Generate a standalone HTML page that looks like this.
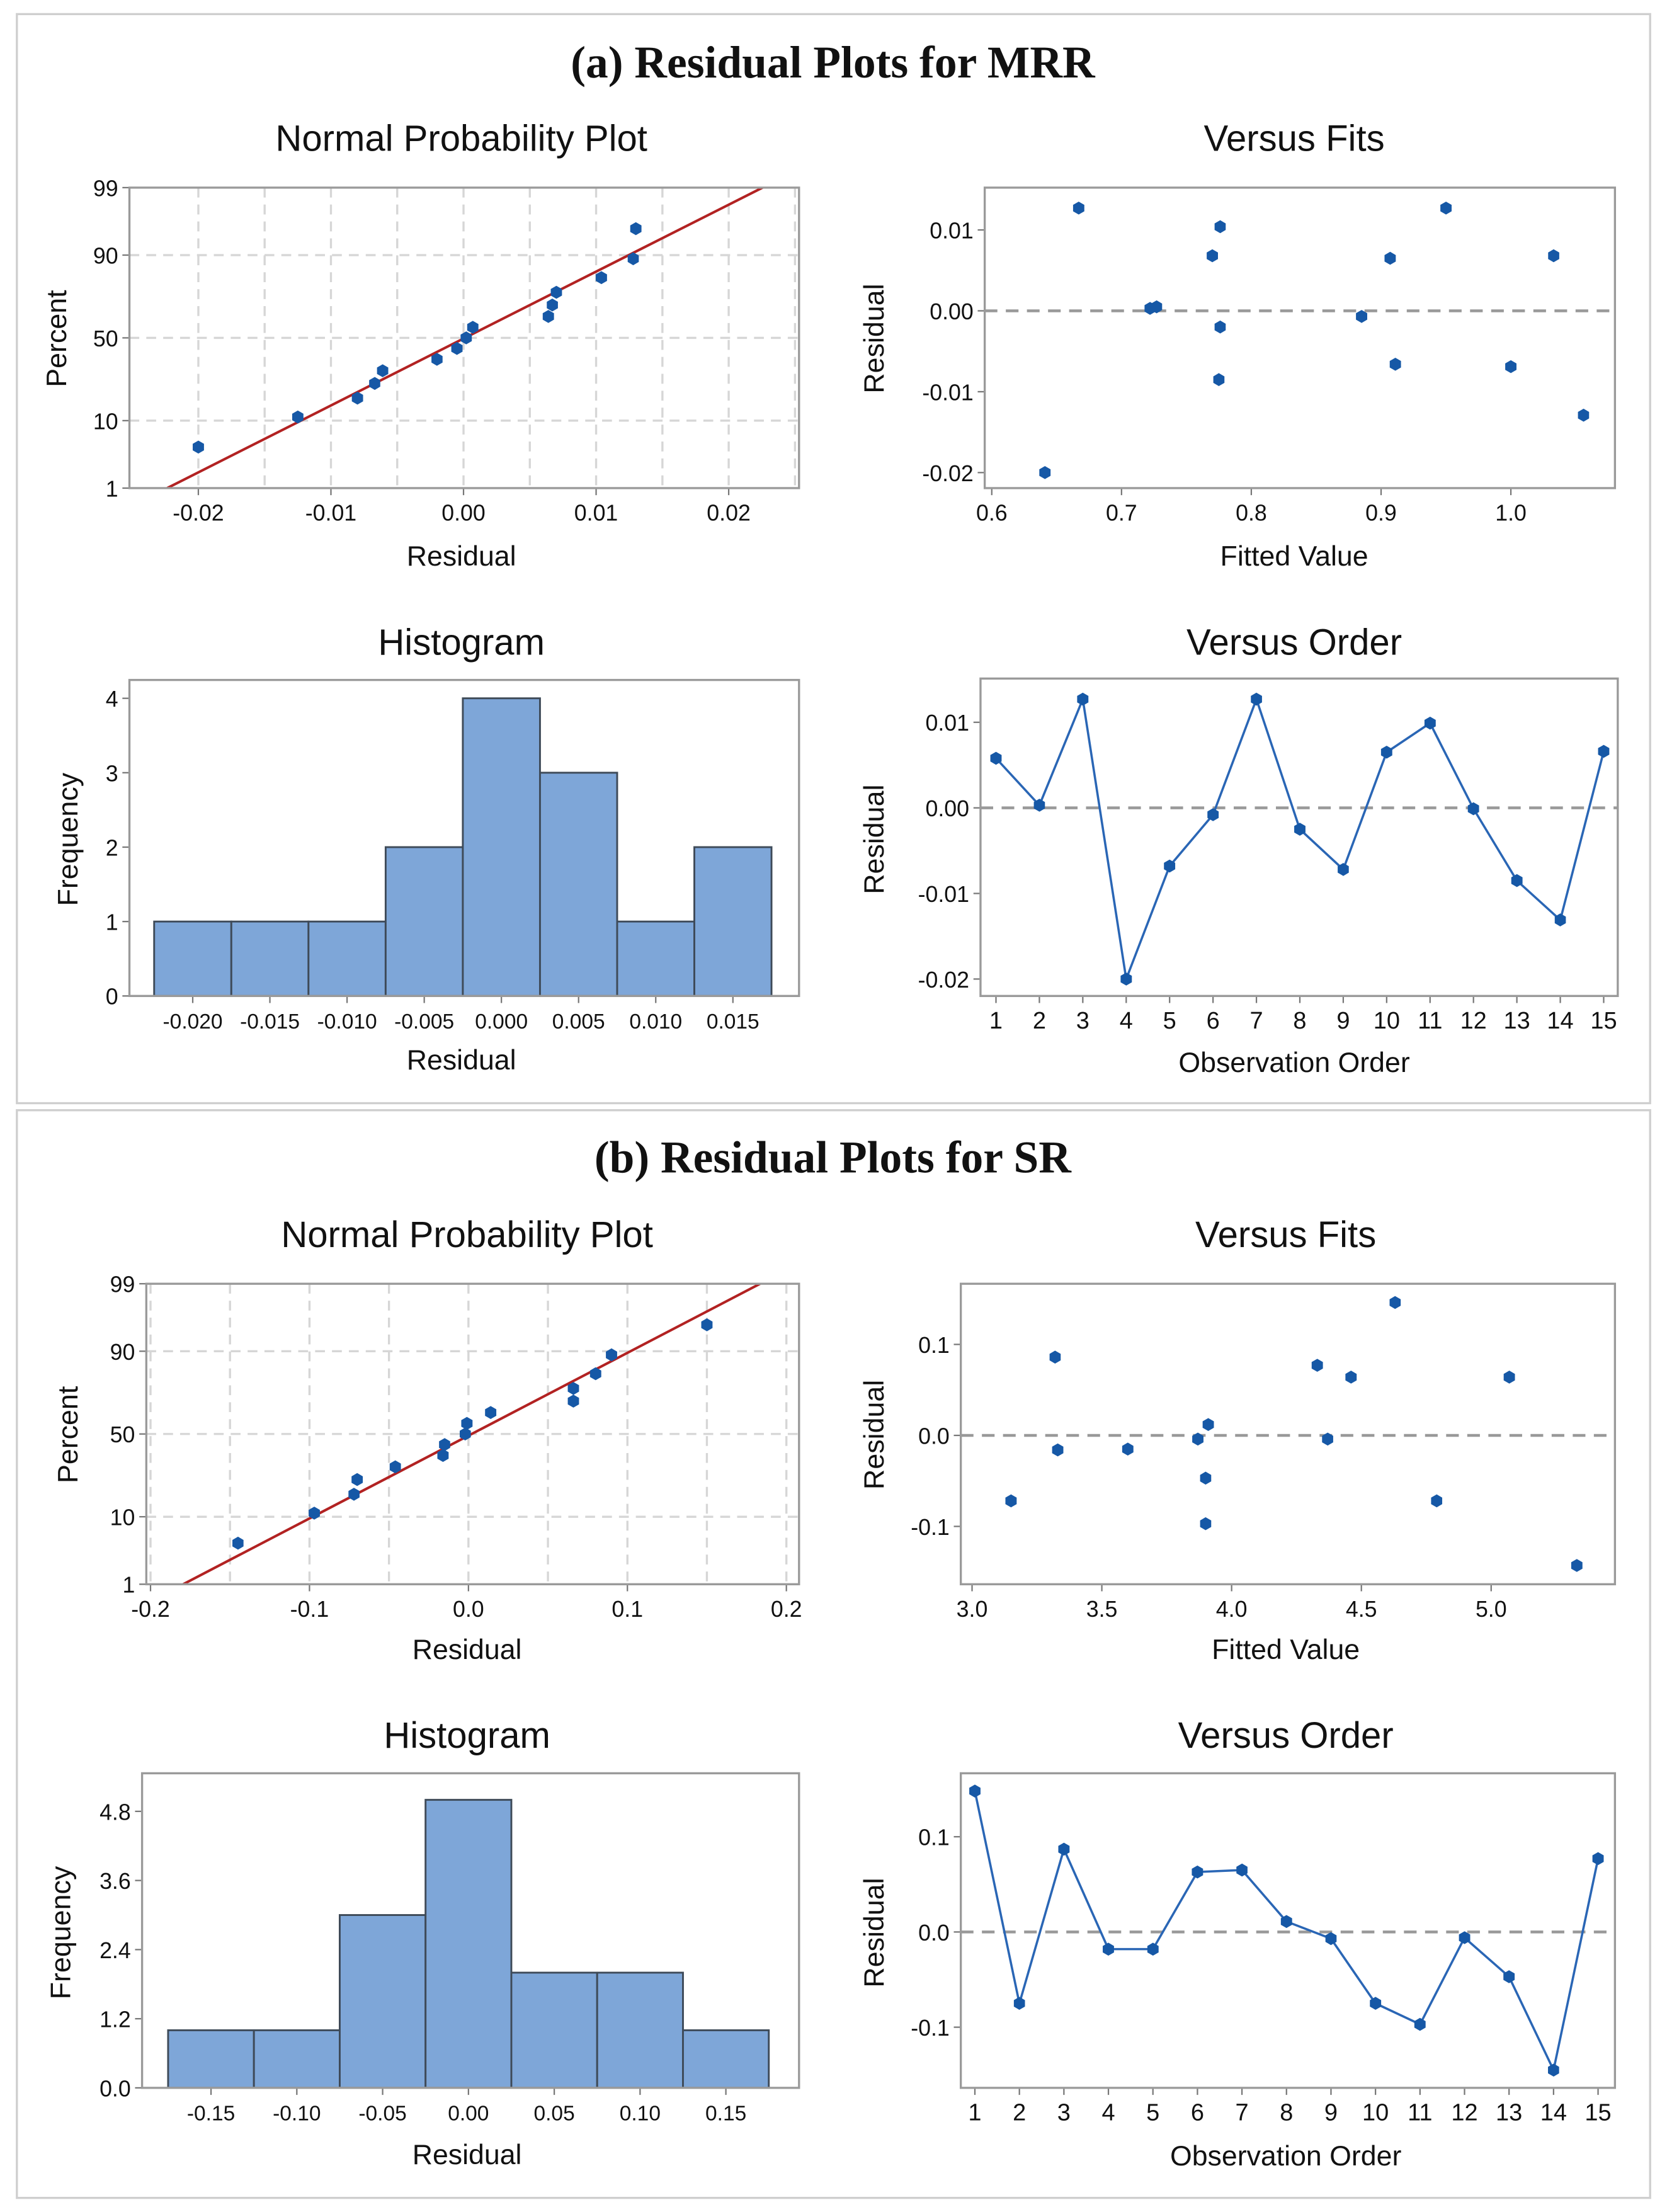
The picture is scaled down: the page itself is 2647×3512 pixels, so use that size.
<!DOCTYPE html>
<html><head><meta charset="utf-8"><style>
html,body{margin:0;padding:0;background:#fff;}
svg{display:block;}
text{font-family:"Liberation Sans",sans-serif;fill:#111;}
</style></head><body>
<svg id="fig" width="2647" height="3512" viewBox="0 0 1185 1568" preserveAspectRatio="none" xmlns="http://www.w3.org/2000/svg">
<rect x="0" y="0" width="1185" height="1568" fill="#fff"/>
<defs>
<clipPath id="clipA"><rect x="92" y="133" width="476" height="213"/></clipPath>
<clipPath id="clipB"><rect x="104" y="910" width="464" height="213"/></clipPath>
</defs>
<rect x="12" y="10" width="1161" height="772" fill="none" stroke="#cfcfcf" stroke-width="1.5"/>
<rect x="12" y="787" width="1161" height="771" fill="none" stroke="#cfcfcf" stroke-width="1.5"/>
<text x="592" y="55" text-anchor="middle" style="font-family:'Liberation Serif',serif;font-weight:bold;font-size:32px;">(a) Residual Plots for MRR</text>
<text x="592" y="831" text-anchor="middle" style="font-family:'Liberation Serif',serif;font-weight:bold;font-size:32px;">(b) Residual Plots for SR</text>
<g id="g"></g>
</svg>
<script>
// ---- Panel A data ----
const aNppResiduals = [-0.0200,-0.0125,-0.0080,-0.0067,-0.0061,-0.0020,-0.0005,0.0002,0.0007,0.0064,0.0067,0.0070,0.0104,0.0128,0.0130];
const aNppTicksX = [-0.02,-0.01,0.00,0.01,0.02];
const aNppTickLabelsX = ["-0.02","-0.01","0.00","0.01","0.02"];
const aFitsX = [0.641,0.667,0.722,0.727,0.770,0.776,0.776,0.775,0.885,0.907,0.911,0.950,1.000,1.033,1.056];
const aFitsY = [-0.0200,0.0127,0.0003,0.0005,0.0068,0.0104,-0.0020,-0.0085,-0.0007,0.0065,-0.0066,0.0127,-0.0069,0.0068,-0.0129];
const aFitsTicksX = [0.6,0.7,0.8,0.9,1.0];
const aFitsTickLabelsX = ["0.6","0.7","0.8","0.9","1.0"];
const aResTicks = [0.01,0.00,-0.01,-0.02];
const aResTickLabels = ["0.01","0.00","-0.01","-0.02"];
const aHistCenters = [-0.020,-0.015,-0.010,-0.005,0.000,0.005,0.010,0.015];
const aHistCounts = [1,1,1,2,4,3,1,2];
const aHistLabels = ["-0.020","-0.015","-0.010","-0.005","0.000","0.005","0.010","0.015"];
const aHistTicksY = [0,1,2,3,4];
const aHistTickLabelsY = ["0","1","2","3","4"];
const aOrderY = [0.0058,0.0003,0.0127,-0.0200,-0.0068,-0.0008,0.0127,-0.0025,-0.0072,0.0065,0.0099,-0.0001,-0.0085,-0.0131,0.0066];
// ---- Panel B data ----
const bNppResiduals = [-0.145,-0.097,-0.072,-0.070,-0.046,-0.016,-0.015,-0.002,-0.001,0.014,0.066,0.066,0.080,0.090,0.150];
const bNppTicksX = [-0.2,-0.1,0.0,0.1,0.2];
const bNppTickLabelsX = ["-0.2","-0.1","0.0","0.1","0.2"];
const bFitsX = [3.15,3.32,3.33,3.60,3.87,3.91,3.90,3.90,4.33,4.37,4.46,4.63,4.79,5.07,5.33];
const bFitsY = [-0.072,0.086,-0.016,-0.015,-0.004,0.012,-0.047,-0.097,0.077,-0.004,0.064,0.146,-0.072,0.064,-0.143];
const bFitsTicksX = [3.0,3.5,4.0,4.5,5.0];
const bFitsTickLabelsX = ["3.0","3.5","4.0","4.5","5.0"];
const bResTicks = [0.1,0.0,-0.1];
const bResTickLabels = ["0.1","0.0","-0.1"];
const bHistCenters = [-0.15,-0.10,-0.05,0.00,0.05,0.10,0.15];
const bHistCounts = [1,1,3,5,2,2,1];
const bHistLabels = ["-0.15","-0.10","-0.05","0.00","0.05","0.10","0.15"];
const bHistTicksY = [0,1.2,2.4,3.6,4.8];
const bHistTickLabelsY = ["0.0","1.2","2.4","3.6","4.8"];
const bOrderY = [0.148,-0.075,0.087,-0.018,-0.018,0.063,0.065,0.011,-0.007,-0.075,-0.097,-0.006,-0.047,-0.145,0.077];
const percentTicks = [1,10,50,90,99];
const percentLabels = ["1","10","50","90","99"];
const orderLabels = ["1","2","3","4","5","6","7","8","9","10","11","12","13","14","15"];

const NS="http://www.w3.org/2000/svg";
const G=document.getElementById('g');
function el(tag,attrs,parent,txt){const e=document.createElementNS(NS,tag);for(const k in attrs)e.setAttribute(k,attrs[k]);if(txt!==undefined)e.textContent=txt;(parent||G).appendChild(e);return e;}
function lin(d0,d1,r0,r1){return v=>r0+(v-d0)*(r1-r0)/(d1-d0);}
function probit(p){
 const a=[-39.6968302866538,220.946098424521,-275.928510446969,138.357751867269,-30.6647980661472,2.50662827745924];
 const b=[-54.4760987982241,161.585836858041,-155.698979859887,66.8013118877197,-13.2806815528857];
 const c=[-0.00778489400243029,-0.322396458041136,-2.40075827716184,-2.54973253934373,4.37466414146497,2.93816398269878];
 const d=[0.00778469570904146,0.32246712907004,2.445134137143,3.75440866190742];
 let q,r;
 if(p<0.02425){q=Math.sqrt(-2*Math.log(p));return (((((c[0]*q+c[1])*q+c[2])*q+c[3])*q+c[4])*q+c[5])/((((d[0]*q+d[1])*q+d[2])*q+d[3])*q+1);}
 if(p>1-0.02425){q=Math.sqrt(-2*Math.log(1-p));return -(((((c[0]*q+c[1])*q+c[2])*q+c[3])*q+c[4])*q+c[5])/((((d[0]*q+d[1])*q+d[2])*q+d[3])*q+1);}
 q=p-0.5;r=q*q;return (((((a[0]*r+a[1])*r+a[2])*r+a[3])*r+a[4])*r+a[5])*q/(((((b[0]*r+b[1])*r+b[2])*r+b[3])*r+b[4])*r+1);
}
function frame(name,x0,y0,x1,y1){const r=el('rect',{x:x0,y:y0,width:x1-x0,height:y1-y0,fill:'none',stroke:'#9a9a9a','stroke-width':1.5});}
function bg(x0,y0,x1,y1){el('rect',{x:x0,y:y0,width:x1-x0,height:y1-y0,fill:'#fff'});}
function title(name,x,y,s){const t=el('text',{x:x,y:y,'text-anchor':'middle','font-size':26},G,s);}
function xlabel(name,x,y,s){const t=el('text',{x:x,y:y,'text-anchor':'middle','font-size':20},G,s);}
function ylabel(name,x,y,s){const t=el('text',{x:x,y:y,'text-anchor':'middle','font-size':20,transform:`rotate(-90 ${x} ${y})`},G,s);}
function xtick(name,x,y,s,fs){el('line',{x1:x,y1:y,x2:x,y2:y+5,stroke:'#777'});const t=el('text',{x:x,y:y+23,'text-anchor':'middle','font-size':fs||16},G,s);}
function ytick(name,x,y,s){el('line',{x1:x-5,y1:y,x2:x,y2:y,stroke:'#777'});const t=el('text',{x:x-8,y:y+6,'text-anchor':'end','font-size':16},G,s);}
function marker(name,x,y){const pts=[];for(let i=0;i<6;i++){const a=Math.PI/3*i+Math.PI/6;pts.push((x+4.6*Math.cos(a)).toFixed(1)+','+(y+4.6*Math.sin(a)).toFixed(1));}const p=el('polygon',{points:pts.join(' '),fill:'#1658a6'});}

// xm: [value0,value1,pix0,pix1]; ym likewise
function npp(pfx,box,xm,res,xt,xtl,mu,sd,clip){
 const [x0,y0,x1,y1]=box;const sx=lin(...xm);
 const zTop=probit(0.99),zBot=probit(0.01);const sy=lin(zBot,zTop,y1,y0);
 bg(x0,y0,x1,y1);
 const step=(xt[1]-xt[0])/2;
 for(let v=xt[0]-step*4;v<=xt[xt.length-1]+step*4+1e-9;v+=step){const x=sx(v);if(x>x0+2&&x<x1-2)el('line',{x1:x,y1:y0,x2:x,y2:y1,stroke:'#d6d6d6','stroke-dasharray':'7,5','stroke-width':1.5});}
 percentTicks.forEach((p,i)=>{const y=sy(probit(p/100));if(i>0&&i<4)el('line',{x1:x0,y1:y,x2:x1,y2:y,stroke:'#d6d6d6','stroke-dasharray':'7,5','stroke-width':1.5});ytick(pfx+'-npp-ytick-'+p,x0,y,percentLabels[i]);});
 xt.forEach((v,i)=>xtick(pfx+'-npp-xtick-'+i,sx(v),y1,xtl[i]));
 const rA=mu+sd*zBot,rB=mu+sd*zTop;
 const L=el('line',{x1:sx(rA),y1:sy(zBot),x2:sx(rB),y2:sy(zTop),stroke:'#b22222','stroke-width':1.8,'clip-path':'url(#'+clip+')'});
 
 frame(pfx+'-npp-frame',x0,y0,x1,y1);
 const n=res.length;
 res.forEach((r,i)=>{const p=(i+1-0.3)/(n+0.4);marker(pfx+'-npp-point-'+(i+1),sx(r),sy(probit(p)));});
}
function fits(pfx,box,xm,ym,xs,ys,xt,xtl,yt,ytl){
 const [x0,y0,x1,y1]=box;const sx=lin(...xm),sy=lin(...ym);
 bg(x0,y0,x1,y1);
 el('line',{x1:x0,y1:sy(0),x2:x1,y2:sy(0),stroke:'#999','stroke-dasharray':'9,6','stroke-width':2});
 xt.forEach((v,i)=>xtick(pfx+'-fits-xtick-'+i,sx(v),y1,xtl[i]));
 yt.forEach((v,i)=>ytick(pfx+'-fits-ytick-'+i,x0,sy(v),ytl[i]));
 frame(pfx+'-fits-frame',x0,y0,x1,y1);
 xs.forEach((v,i)=>marker(pfx+'-fits-point-'+(i+1),sx(v),sy(ys[i])));
}
function hist(pfx,box,xm,ym,centers,counts,labels,yt,ytl,w){
 const [x0,y0,x1,y1]=box;const sx=lin(...xm),sy=lin(...ym);
 bg(x0,y0,x1,y1);
 centers.forEach((c,i)=>{const b=el('rect',{x:sx(c-w/2),y:sy(counts[i]),width:sx(c+w/2)-sx(c-w/2),height:sy(0)-sy(counts[i]),fill:'#7ea6d8',stroke:'#3e4a58','stroke-width':1.3});
  
  xtick(pfx+'-hist-xtick-'+i,sx(c),y1,labels[i],15);});
 yt.forEach((v,i)=>ytick(pfx+'-hist-ytick-'+i,x0,sy(v),ytl[i]));
 frame(pfx+'-hist-frame',x0,y0,x1,y1);
}
function order(pfx,box,ym,ys,yt,ytl,xa,xb){
 const [x0,y0,x1,y1]=box;const sx=lin(1,15,xa,xb),sy=lin(...ym);
 bg(x0,y0,x1,y1);
 el('line',{x1:x0,y1:sy(0),x2:x1,y2:sy(0),stroke:'#999','stroke-dasharray':'9,6','stroke-width':2});
 orderLabels.forEach((s,i)=>xtick(pfx+'-order-xtick-'+(i+1),sx(i+1),y1,s,17));
 yt.forEach((v,i)=>ytick(pfx+'-order-ytick-'+i,x0,sy(v),ytl[i]));
 frame(pfx+'-order-frame',x0,y0,x1,y1);
 const pl=el('polyline',{points:ys.map((v,i)=>sx(i+1)+','+sy(v)).join(' '),fill:'none',stroke:'#2a66b5','stroke-width':1.6});
 
 ys.forEach((v,i)=>marker(pfx+'-order-point-'+(i+1),sx(i+1),sy(v)));
}

// Panel A
title('a-npp-title',328,107,'Normal Probability Plot');
npp('a',[92,133,568,346],[-0.02,0.02,141,518],aNppResiduals,aNppTicksX,aNppTickLabelsX,0.0001,0.00965,'clipA');
xlabel('a-npp-xlabel',328,401,'Residual');ylabel('a-npp-ylabel',47,240,'Percent');
title('a-fits-title',920,107,'Versus Fits');
fits('a',[700,133,1148,346],[0.6,1.0,705,1074],[0.01,-0.02,163,335],aFitsX,aFitsY,aFitsTicksX,aFitsTickLabelsX,aResTicks,aResTickLabels);
xlabel('a-fits-xlabel',920,401,'Fitted Value');ylabel('a-fits-ylabel',628,240,'Residual');
title('a-hist-title',328,464,'Histogram');
hist('a',[92,482,568,706],[-0.020,0.015,137,521],[0,4,706,495],aHistCenters,aHistCounts,aHistLabels,aHistTicksY,aHistTickLabelsY,0.005);
xlabel('a-hist-xlabel',328,758,'Residual');ylabel('a-hist-ylabel',55,595,'Frequency');
title('a-order-title',920,464,'Versus Order');
order('a',[697,481,1150,706],[0.01,-0.02,512,694],aOrderY,aResTicks,aResTickLabels,708,1140);
xlabel('a-order-xlabel',920,760,'Observation Order');ylabel('a-order-ylabel',628,595,'Residual');

// Panel B
title('b-npp-title',332,884,'Normal Probability Plot');
npp('b',[104,910,568,1123],[-0.2,0.2,107,559],bNppResiduals,bNppTicksX,bNppTickLabelsX,0.002,0.078,'clipB');
xlabel('b-npp-xlabel',332,1176,'Residual');ylabel('b-npp-ylabel',55,1017,'Percent');
title('b-fits-title',914,884,'Versus Fits');
fits('b',[683,910,1148,1123],[3.0,5.0,691,1060],[0.1,-0.1,953,1082],bFitsX,bFitsY,bFitsTicksX,bFitsTickLabelsX,bResTicks,bResTickLabels);
xlabel('b-fits-xlabel',914,1176,'Fitted Value');ylabel('b-fits-ylabel',628,1017,'Residual');
title('b-hist-title',332,1239,'Histogram');
hist('b',[101,1257,568,1480],[-0.15,0.15,150,516],[0,4.8,1480,1284],bHistCenters,bHistCounts,bHistLabels,bHistTicksY,bHistTickLabelsY,0.05);
xlabel('b-hist-xlabel',332,1534,'Residual');ylabel('b-hist-ylabel',50,1370,'Frequency');
title('b-order-title',914,1239,'Versus Order');
order('b',[683,1257,1148,1480],[0.1,-0.1,1302,1437],bOrderY,bResTicks,bResTickLabels,693,1136);
xlabel('b-order-xlabel',914,1535,'Observation Order');ylabel('b-order-ylabel',628,1370,'Residual');
</script>
</body></html>
